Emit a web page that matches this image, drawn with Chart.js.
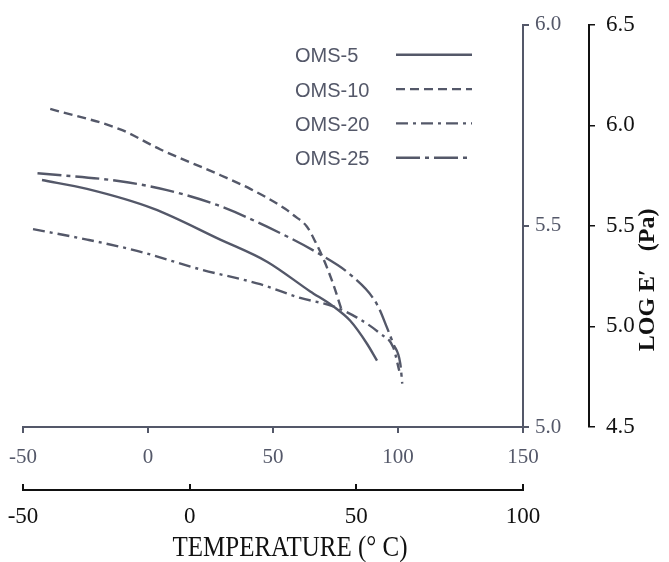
<!DOCTYPE html>
<html>
<head>
<meta charset="utf-8">
<script src="https://cdn.jsdelivr.net/npm/chart.js@4"></script>
<style>
  html, body { margin: 0; padding: 0; background: #fff; }
</style>
</head>
<body>
<canvas id="chart" width="669" height="562"></canvas>
<script>
// values (temperature on the upper axis, log E' on the inner axis)
const seriesNames = ['OMS-5', 'OMS-10', 'OMS-20', 'OMS-25'];

const oms5T = [-42.4, -24.4, 2.1, 28.9, 47.6, 64.9, 74.1, 80.9, 87.6, 91.6];
const oms5E = [5.614, 5.592, 5.543, 5.466, 5.411, 5.337, 5.300, 5.264, 5.207, 5.165];

const oms10T = [-39.1, -11.1, 5.0, 29.0, 40.9, 55.0, 58.1, 63.6, 66.9, 70.1, 74.1, 77.6];
const oms10E = [5.791, 5.740, 5.690, 5.626, 5.592, 5.542, 5.527, 5.498, 5.461, 5.419, 5.355, 5.288];

const oms20T = [-46.0, -24.4, -4.4, 20.9, 44.9, 60.9, 74.1, 83.6, 92.9, 98.1, 100.5];
const oms20E = [5.492, 5.466, 5.438, 5.392, 5.355, 5.321, 5.300, 5.272, 5.232, 5.198, 5.140];

const oms25T = [-44.2, -11.1, 7.6, 27.6, 47.6, 68.9, 80.9, 91.6, 95.6, 98.1, 100.9, 101.7];
const oms25E = [5.631, 5.611, 5.589, 5.552, 5.498, 5.429, 5.379, 5.305, 5.247, 5.207, 5.158, 5.108];

const topTicks = [-50, 0, 50, 100, 150];
const bottomTicks = [-50, 0, 50, 100];
const innerTicks = [5.0, 5.5, 6.0];
const outerTicks = [4.5, 5.0, 5.5, 6.0, 6.5];

const xTitle = 'TEMPERATURE (° C)';
const yTitle = 'LOG E′   (Pa)';

const grey = '#545869';
const ink = '#111111';
const serif = '"Liberation Serif", "DejaVu Serif", serif';

function pts(xs, ys) {
  return xs.map((x, i) => ({ x: x, y: ys[i] }));
}

function setTicks(list) {
  return (scale) => { scale.ticks = list.map(v => ({ value: v })); };
}

function fixHeight(h) {
  return (s) => { s.height = h; s.paddingLeft = 0; s.paddingRight = 0; };
}

const dashes = [[], [9, 5], [12, 5, 3, 5], [24, 5, 4, 5]];
const allT = [oms5T, oms10T, oms20T, oms25T];
const allE = [oms5E, oms10E, oms20E, oms25E];

const datasets = seriesNames.map((name, i) => ({
  label: name,
  data: pts(allT[i], allE[i]),
  borderColor: grey,
  borderWidth: 2.4,
  borderDash: dashes[i],
  pointRadius: 0,
  fill: false,
  cubicInterpolationMode: 'monotone',
  xAxisID: 'xTop',
  yAxisID: 'yIn'
}));

// extra bits Chart.js has no option for: lower axis line, titles, text-first legend
const extras = {
  id: 'extras',
  afterDraw(chart) {
    const ctx = chart.ctx;
    const area = chart.chartArea;

    const xb = chart.scales.xBot;
    const lineY = xb.top + xb.options.grid.tickLength;
    ctx.save();
    ctx.strokeStyle = ink;
    ctx.lineWidth = 2;
    ctx.beginPath();
    ctx.moveTo(xb.left - 1, lineY);
    ctx.lineTo(xb.right + 1, lineY);
    ctx.stroke();

    // x title, a bit right of centre as in the scan
    ctx.translate((xb.left + xb.right) / 2 + 17, xb.bottom - 14);
    ctx.scale(1, 1.15);
    ctx.font = '25px ' + serif;
    ctx.fillStyle = ink;
    ctx.textAlign = 'center';
    ctx.textBaseline = 'middle';
    ctx.fillText(xTitle, 0, 0);
    ctx.restore();

    const yo = chart.scales.yOut;
    ctx.save();
    ctx.translate(yo.right - 21, (yo.top + yo.bottom) / 2 + 54);
    ctx.rotate(-Math.PI / 2);
    ctx.font = 'bold 24px ' + serif;
    ctx.fillStyle = ink;
    ctx.textAlign = 'center';
    ctx.textBaseline = 'middle';
    ctx.fillText(yTitle, 0, 0);
    ctx.restore();

    ctx.save();
    ctx.font = '20px "Liberation Sans", Arial, sans-serif';
    ctx.textBaseline = 'middle';
    chart.data.datasets.forEach((ds, i) => {
      const y = area.top + 32 + i * 34.3;
      ctx.fillStyle = grey;
      ctx.fillText(ds.label, area.left + 272, y);
      ctx.strokeStyle = ds.borderColor;
      ctx.lineWidth = ds.borderWidth;
      ctx.setLineDash(ds.borderDash);
      ctx.beginPath();
      ctx.moveTo(area.left + 373, y - 2);
      ctx.lineTo(area.left + 449, y - 2);
      ctx.stroke();
    });
    ctx.restore();
  }
};

new Chart(document.getElementById('chart'), {
  type: 'line',
  data: { datasets: datasets },
  plugins: [extras],
  options: {
    responsive: false,
    animation: false,
    layout: { padding: { top: 22, left: 23, right: 0, bottom: 0 } },
    plugins: {
      legend: { display: false },
      tooltip: { enabled: false }
    },
    scales: {
      xTop: {
        type: 'linear',
        position: 'bottom',
        weight: 0,
        min: -50,
        max: 150,
        afterBuildTicks: setTicks(topTicks),
        afterFit: fixHeight(57),
        grid: { drawOnChartArea: false, tickLength: 6, color: grey, lineWidth: 2 },
        border: { color: grey, width: 2 },
        ticks: { color: grey, font: { family: serif, size: 21 }, padding: 12, maxRotation: 0 }
      },
      xBot: {
        type: 'linear',
        position: 'bottom',
        weight: 1,
        min: -50,
        max: 100,
        afterBuildTicks: setTicks(bottomTicks),
        afterFit: fixHeight(78),
        grid: { drawOnChartArea: false, tickLength: 6, color: ink, lineWidth: 2 },
        border: { display: false },
        ticks: { color: ink, font: { family: serif, size: 23 }, padding: 13, maxRotation: 0 }
      },
      yIn: {
        type: 'linear',
        position: 'right',
        weight: 0,
        min: 5,
        max: 6,
        afterBuildTicks: setTicks(innerTicks),
        afterFit: (s) => { s.width = 66; },
        grid: { drawOnChartArea: false, tickLength: 6, color: grey, lineWidth: 2 },
        border: { color: grey, width: 2 },
        ticks: { color: grey, font: { family: serif, size: 21 }, padding: 6, callback: v => v.toFixed(1) }
      },
      yOut: {
        type: 'linear',
        position: 'right',
        weight: 1,
        min: 4.5,
        max: 6.5,
        afterBuildTicks: setTicks(outerTicks),
        afterFit: (s) => { s.width = 80; },
        grid: { drawOnChartArea: false, tickLength: 6, color: ink, lineWidth: 1.5 },
        border: { color: ink, width: 2 },
        ticks: { color: ink, font: { family: serif, size: 23 }, padding: 11, callback: v => v.toFixed(1) }
      }
    }
  }
});
</script>
</body>
</html>
